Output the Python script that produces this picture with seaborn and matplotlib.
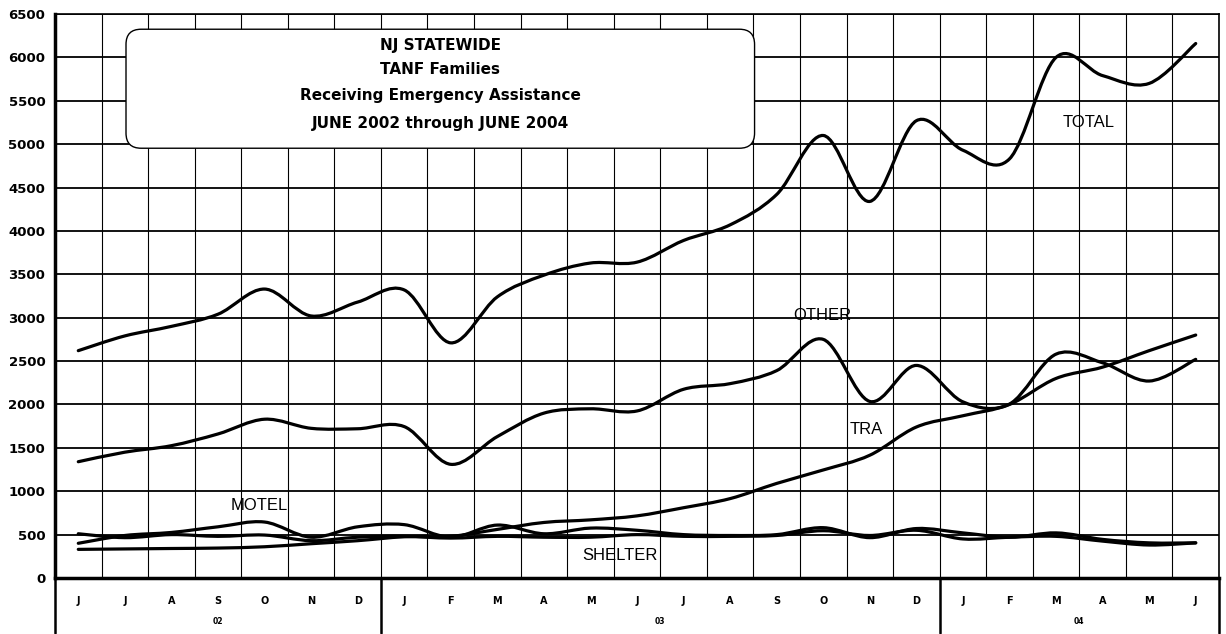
import numpy as np
import pandas as pd
import seaborn as sns
import matplotlib.pyplot as plt
from matplotlib.path import Path
from matplotlib.patches import PathPatch, FancyBboxPatch

# NJ statewide TANF families receiving emergency assistance, June 2002 - June 2004
months = ['J', 'J', 'A', 'S', 'O', 'N', 'D',
          'J', 'F', 'M', 'A', 'M', 'J', 'J', 'A', 'S', 'O', 'N', 'D',
          'J', 'F', 'M', 'A', 'M', 'J']
years = ['02', '03', '04']
year_start = [0, 7, 19]

total = [2620, 2790, 2900, 3040, 3330, 3020, 3180, 3320, 2710, 3240, 3490, 3630, 3640,
         3890, 4070, 4420, 5100, 4340, 5270, 4930, 4830, 6000, 5790, 5700, 6160]
other = [1340, 1450, 1525, 1660, 1830, 1725, 1720, 1745, 1310, 1630, 1900, 1950, 1925,
         2175, 2240, 2390, 2750, 2035, 2450, 2030, 2005, 2580, 2480, 2270, 2520]
tra = [330, 335, 340, 345, 360, 395, 430, 475, 480, 560, 640, 670, 716,
       810, 915, 1090, 1245, 1415, 1740, 1870, 2000, 2300, 2430, 2620, 2800]
motel = [400, 490, 525, 590, 645, 470, 590, 615, 470, 610, 510, 575, 550,
         500, 490, 500, 580, 465, 570, 520, 470, 520, 445, 405, 405]
shelter = [510, 465, 500, 480, 495, 430, 470, 480, 460, 480, 470, 470, 500,
           480, 480, 490, 545, 490, 550, 450, 470, 480, 425, 380, 405]

df = pd.DataFrame({'TOTAL': total, 'OTHER': other, 'TRA': tra,
                   'MOTEL': motel, 'SHELTER': shelter})
df['month'] = np.arange(len(months))


def smooth_path(xs, ys):
    # excel style smoothed line: catmull-rom segments as cubic bezier curves
    pts = np.column_stack([xs, ys]).astype(float)
    ext = np.vstack([pts[0], pts, pts[-1]])
    verts = [pts[0]]
    codes = [Path.MOVETO]
    for i in range(len(pts) - 1):
        p0, p1, p2, p3 = ext[i], ext[i + 1], ext[i + 2], ext[i + 3]
        verts += [p1 + (p2 - p0) / 6, p2 - (p3 - p1) / 6, p2]
        codes += [Path.CURVE4] * 3
    return Path(verts, codes)


sns.set_style("white")
plt.rcParams.update({'font.family': ['DejaVu Sans'], 'text.color': 'black',
                     'xtick.color': 'black', 'ytick.color': 'black',
                     'axes.labelcolor': 'black'})

W, H = 1226, 634
fig = plt.figure(figsize=(W / 100, H / 100), dpi=100)
ax = fig.add_axes([55 / W, 1 - 578 / H, (1219 - 55) / W, (578 - 14) / H])
ax.set_xlim(-0.5, len(months) - 0.5)
ax.set_ylim(0, 6500)
ax.set_axisbelow(True)

for col in ['TOTAL', 'OTHER', 'TRA', 'MOTEL', 'SHELTER']:
    ax.add_patch(PathPatch(smooth_path(df['month'], df[col]), fill=False,
                           edgecolor='black', lw=2.3, zorder=4, capstyle='round'))

# grid
ax.set_yticks(range(0, 6501, 500))
ax.set_yticklabels([str(v) for v in range(0, 6501, 500)],
                   fontsize=9.5, fontweight='bold')
ax.yaxis.grid(True, color='black', lw=1.3)
ax.set_xticks(df['month'])
ax.set_xticklabels(months, fontsize=7, fontweight='bold')
ax.set_xticks(np.arange(-0.5, len(months)), minor=True)
ax.xaxis.grid(True, which='minor', color='black', lw=0.8)
ax.xaxis.grid(False, which='major')
ax.tick_params(axis='x', which='major', length=0, pad=13)
ax.tick_params(axis='x', which='minor', length=20, width=1.6, direction='out')
ax.tick_params(axis='y', length=5, width=1.4, direction='out', pad=2)

for side in ['left', 'bottom']:
    ax.spines[side].set_linewidth(2.5)
for side in ['top', 'right']:
    ax.spines[side].set_linewidth(1.2)
for s in ax.spines.values():
    s.set_color('black')

# year separators and labels below the month row
for xb in [-0.5, year_start[1] - 0.5, year_start[2] - 0.5, len(months) - 0.5]:
    ax.axvline(xb, ymin=-0.098, ymax=0, color='black', lw=1.8, clip_on=False)
ends = year_start[1:] + [len(months)]
for yr, s, e in zip(years, year_start, ends):
    ax.text((s + e - 1) / 2, -0.078, yr, transform=ax.get_xaxis_transform(),
            ha='center', va='center', fontsize=5.5, fontweight='bold')

# title box
ax.add_patch(FancyBboxPatch((0.061, 0.762), 0.54, 0.211,
                            boxstyle='round,pad=0,rounding_size=0.013',
                            mutation_aspect=1164 / 564, transform=ax.transAxes,
                            facecolor='white', edgecolor='black', lw=1.0, zorder=3))
title_lines = ['NJ STATEWIDE', 'TANF Families', 'Receiving Emergency Assistance',
               'JUNE 2002 through JUNE 2004']
for txt, yy in zip(title_lines, [0.945, 0.901, 0.855, 0.805]):
    ax.text(0.331, yy, txt, transform=ax.transAxes, ha='center', va='center',
            fontsize=11, fontweight='bold', zorder=5)

# series labels
label_font = dict(fontsize=12, family='Liberation Sans', ha='center', va='center', zorder=5)
ax.text(21.69, 5255, 'TOTAL', **label_font)
ax.text(15.99, 3020, 'OTHER', **label_font)
ax.text(16.92, 1706, 'TRA', **label_font)
ax.text(3.88, 841, 'MOTEL', **label_font)
ax.text(11.63, 265, 'SHELTER', **label_font)

fig.savefig('out.png', dpi=100, facecolor='white')
